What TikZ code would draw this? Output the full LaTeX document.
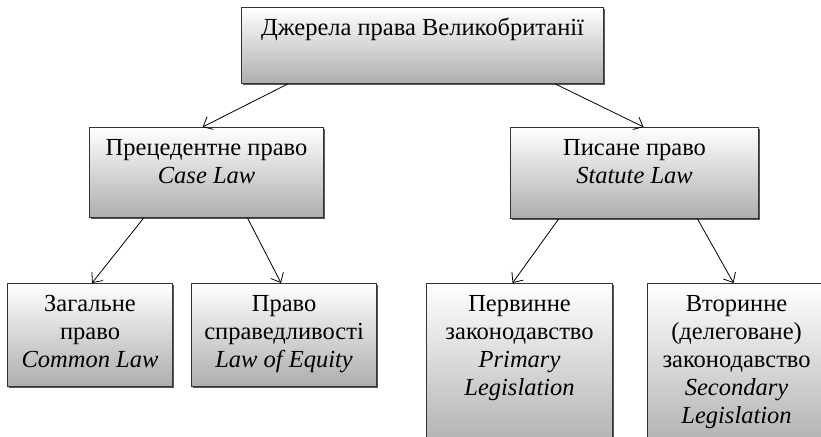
\documentclass[tikz,border=0pt]{standalone}
\usepackage{fontspec}
\setmainfont{Liberation Serif}
\usetikzlibrary{arrows.meta,shadows}

\newcommand{\lawtext}[3]{\parbox[t][#2][t]{#1}{\centering\strut #3}}

\begin{document}
\begin{tikzpicture}[x=1pt,y=-1pt,
    law_box/.style={anchor=north west,draw=black!80,line width=1.1pt,
      top color=white,bottom color=black!32,inner xsep=2pt,inner ysep=8pt,
      drop shadow={shadow xshift=1.6pt,shadow yshift=-1.6pt,fill=black!65,opacity=1},
      font=\fontsize{24.5}{28}\selectfont},
    law_arrow/.style={black,line width=0.8pt,-{Straight Barb[length=8pt,width=14pt]}}]
  \useasboundingbox (0,0) rectangle (821,436);
\node[law_box] (sources) at (241,7) {\lawtext{358pt}{60pt}{Джерела права Великобританії}};
\node[law_box] (case) at (89,127) {\lawtext{230pt}{74pt}{Прецедентне право\\ \textit{Case Law}}};
\node[law_box] (statute) at (510,127) {\lawtext{244pt}{75pt}{Писане право\\ \textit{Statute Law}}};
\node[law_box] (common) at (7,283) {\lawtext{161pt}{87pt}{Загальне\\ право\\ \textit{Common Law}}};
\node[law_box] (equity) at (191,283) {\lawtext{181pt}{87pt}{Право\\ справедливості\\ \textit{Law of Equity}}};
\node[law_box] (primary) at (426,283) {\lawtext{182pt}{154pt}{Первинне\\ законодавство\\ \textit{Primary}\\ \textit{Legislation}}};
\node[law_box] (secondary) at (647,283) {\lawtext{174pt}{154pt}{Вторинне\\ (делеговане)\\ законодавство\\ \textit{Secondary}\\ \textit{Legislation}}};
\draw[law_arrow] ([xshift=-135pt]sources.south) -- ([xshift=-4pt]case.north);
\draw[law_arrow] ([xshift=133pt]sources.south) -- ([xshift=9pt]statute.north);
\draw[law_arrow] ([xshift=-63pt]case.south) -- ([xshift=2pt]common.north);
\draw[law_arrow] ([xshift=41pt]case.south) -- ([xshift=-3pt]equity.north);
\draw[law_arrow] ([xshift=-76pt]statute.south) -- ([xshift=-7pt]primary.north);
\draw[law_arrow] ([xshift=63pt]statute.south) -- ([xshift=-3pt]secondary.north);
\end{tikzpicture}
\end{document}
